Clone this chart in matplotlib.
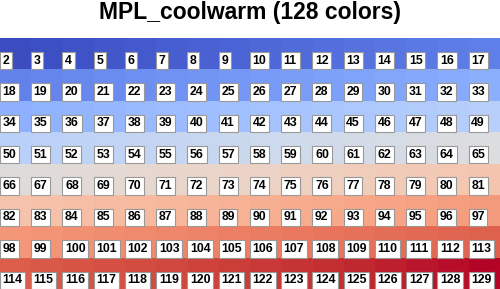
# colour table for MPL_coolwarm
import numpy as np
import matplotlib.pyplot as plt

cmap_name = "coolwarm"
ncolors = 128
first_index = 2
ncols = 16
nrows = 8
title = "MPL_coolwarm (128 colors)"

labels = np.arange(first_index, first_index + ncolors)
cmap = plt.get_cmap(cmap_name, ncolors)

fig = plt.figure(figsize=[5, 2.89], dpi=100)
ax = fig.add_axes([0, 0, 1, 251 / 289])
grid = np.arange(ncolors).reshape(nrows, ncols)
ax.pcolormesh(grid, cmap=cmap, vmin=-0.5, vmax=ncolors - 0.5)
ax.set_xlim(0, ncols)
ax.set_ylim(nrows, 0)
ax.axis("off")

for k, lab in enumerate(labels):
    r, c = divmod(k, ncols)
    ax.text(c + 0.08, r + 0.72, str(lab), ha="left", va="center",
            fontsize=8.8, fontweight="bold", family="Liberation Sans",
            bbox=dict(boxstyle="square,pad=0.22", fc="white", ec="#999999", lw=0.8))

fig.text(0.5, 1 - 12 / 289, title, ha="center", va="center",
         fontsize=16.5, fontweight="bold", family="Liberation Sans")
plt.savefig("out.png", dpi=100)
